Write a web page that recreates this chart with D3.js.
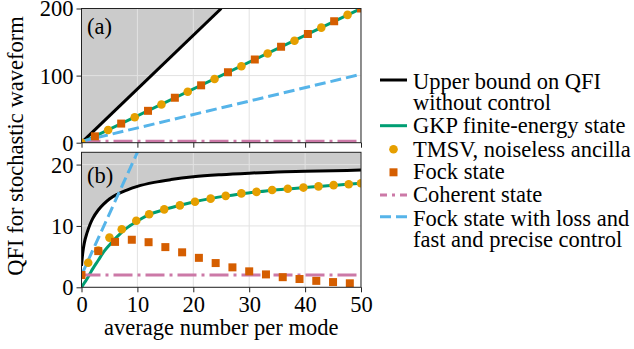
<!DOCTYPE html>
<html>
<head>
<meta charset="utf-8">
<script src="https://cdn.jsdelivr.net/npm/d3@7"></script>
</head>
<body style="margin:0; background:#fff">
<svg id="main-svg"></svg>
<script>
// DATA
const X_TICKS = [0, 10, 20, 30, 40, 50]
const Y_TICKS_A = [0, 100, 200]
const Y_TICKS_B = [0, 10, 20]

// panel (a)
const UPPER_A_N = [0, 25]
const UPPER_A = [0, 200]
const GKP_A_N = [0, 50]
const GKP_A = [0, 200]
const COHERENT_A_N = [0, 50]
const COHERENT_A = [2, 2]
const LOSS_A_N = [0, 50]
const LOSS_A = [2, 102]
const TMSV_A_N = [0, 4.76, 9.52, 14.3, 19.0, 23.8, 28.6, 33.3, 38.1, 42.9, 47.6]
const TMSV_A = [0, 19, 38, 57, 76, 95, 114, 133, 152, 171.5, 190.5]
const FOCK_A_N = [2.4, 7.1, 11.9, 16.7, 21.4, 26.2, 31.0, 35.7, 40.5, 45.2, 50]
const FOCK_A = [9.5, 28.5, 47.5, 67, 85.5, 105, 124, 143, 162, 181, 200]

// panel (b)
const UPPER_B_N = [0, 0.25, 0.5, 1, 1.5, 2, 3, 4, 5, 6.5, 8, 10, 13, 16, 20, 25, 30, 35, 40, 45, 50]
const UPPER_B = [3.5, 5.8, 7.2, 8.9, 10.2, 11.2, 12.6, 13.6, 14.4, 15.2, 15.8, 16.45, 17.1, 17.55, 18.0, 18.35, 18.6, 18.8, 18.9, 19.0, 19.1]
const GKP_B_N = [0, 0.5, 1, 1.5, 2, 3, 4, 5, 6, 7, 8, 10, 12, 15, 18, 20, 23, 26, 29, 32, 35, 38, 41, 44, 47, 50]
const GKP_B = [0, 0.7, 1.4, 2.2, 3.0, 4.4, 5.8, 6.9, 7.9, 8.8, 9.6, 10.8, 11.8, 12.7, 13.45, 13.9, 14.45, 14.9, 15.3, 15.6, 15.9, 16.1, 16.35, 16.55, 16.75, 16.95]
const COHERENT_B_N = [0, 50]
const COHERENT_B = [2, 2]
const LOSS_B_N = [0, 10]
const LOSS_B = [2, 22]
const TMSV_B_N = [1.2, 3.0, 5.0, 7.2, 9.8, 12.1, 14.8, 17.6, 20.3, 23.1, 25.8, 28.6, 31.3, 34.1, 36.9, 39.7, 42.4, 45.1, 47.8, 50]
const TMSV_B = [4.0, 6.0, 8.1, 9.45, 10.85, 11.9, 12.7, 13.35, 13.95, 14.45, 14.9, 15.3, 15.55, 15.85, 16.05, 16.25, 16.45, 16.65, 16.8, 16.95]
const FOCK_B_N = [0, 3, 6, 9, 12, 15, 18, 21, 24, 27, 30, 33, 36, 39, 42, 45, 48]
const FOCK_B = [2.0, 5.9, 7.4, 7.75, 7.35, 6.55, 5.7, 4.8, 3.95, 3.25, 2.6, 2.1, 1.65, 1.35, 1.05, 0.85, 0.65]

const LEGEND_LABELS = [
  ["Upper bound on QFI", "without control"],
  ["GKP finite-energy state"],
  ["TMSV, noiseless ancilla"],
  ["Fock state"],
  ["Coherent state"],
  ["Fock state with loss and", "fast and precise control"],
]

// SPACING
const CANVAS_WIDTH = 634
const CANVAS_HEIGHT = 349
const PLOT_LEFT = 81.5
const PLOT_RIGHT = 361
const PANEL_A_TOP = 8.5
const PANEL_A_BOTTOM = 142.7
const PANEL_B_TOP = 152.3
const PANEL_B_BOTTOM = 287.3
const TICK_SIZE = 5
const FONT_SIZE = 22.5
const FONT_FAMILY = '"Liberation Serif", "Times New Roman", serif'
const LINE_WIDTH = 3

// STYLE
const FILL_COLOR = "#cbcbcb"
const GRID_COLOR = "#e2e2e2"
const UPPER_COLOR = "#000000"
const GKP_COLOR = "#009E73"
const TMSV_COLOR = "#E69F00"
const FOCK_COLOR = "#D55E00"
const COHERENT_COLOR = "#CC79A7"
const LOSS_COLOR = "#56B4E9"

const zip = (xs, ys) => xs.map((x, i) => [x, ys[i]])

const svg = d3.select("#main-svg")
  .attr("width", CANVAS_WIDTH)
  .attr("height", CANVAS_HEIGHT)

const x = d3.scaleLinear().domain([0, 50]).range([PLOT_LEFT, PLOT_RIGHT])

function addText(parent) {
  return parent.append("text")
    .style("font-family", FONT_FAMILY)
    .style("font-size", FONT_SIZE + "px")
    .attr("fill", "#000")
}

function drawPanel(id, y, yTicks, top, bottom, d, showXLabels, tag, tagY) {
  const clip = svg.append("clipPath").attr("id", "clip-" + id)
  clip.append("rect")
    .attr("x", PLOT_LEFT).attr("y", top)
    .attr("width", PLOT_RIGHT - PLOT_LEFT).attr("height", bottom - top)

  const g = svg.append("g").attr("clip-path", `url(#clip-${id})`)
  const line = d3.line().x(p => x(p[0])).y(p => y(p[1])).curve(d3.curveMonotoneX)

  // grey region above the upper bound
  const area = d3.area()
    .x(p => x(p[0])).y0(top).y1(p => y(p[1]))
    .curve(d3.curveMonotoneX)
  g.append("path")
    .datum(zip(d.upperN, d.upper))
    .attr("d", area)
    .attr("fill", FILL_COLOR)

  // grid
  g.selectAll(".gx").data(X_TICKS).join("line")
    .attr("class", "gx")
    .attr("x1", v => x(v)).attr("x2", v => x(v))
    .attr("y1", top).attr("y2", bottom)
    .attr("stroke", GRID_COLOR).attr("stroke-width", 1)
  g.selectAll(".gy").data(yTicks).join("line")
    .attr("class", "gy")
    .attr("x1", PLOT_LEFT).attr("x2", PLOT_RIGHT)
    .attr("y1", v => y(v)).attr("y2", v => y(v))
    .attr("stroke", GRID_COLOR).attr("stroke-width", 1)

  g.append("path").datum(zip(d.upperN, d.upper)).attr("d", line)
    .attr("fill", "none").attr("stroke", UPPER_COLOR).attr("stroke-width", LINE_WIDTH)
  g.append("path").datum(zip(d.gkpN, d.gkp)).attr("d", line)
    .attr("fill", "none").attr("stroke", GKP_COLOR).attr("stroke-width", LINE_WIDTH)
  g.append("path").datum(zip(d.cohN, d.coh)).attr("d", line)
    .attr("fill", "none").attr("stroke", COHERENT_COLOR).attr("stroke-width", LINE_WIDTH)
    .attr("stroke-dasharray", "19,5,3,5")
  g.append("path").datum(zip(d.lossN, d.loss)).attr("d", line)
    .attr("fill", "none").attr("stroke", LOSS_COLOR).attr("stroke-width", LINE_WIDTH)
    .attr("stroke-dasharray", "11,5")

  g.selectAll(".tmsv").data(zip(d.tmsvN, d.tmsv)).join("circle")
    .attr("class", "tmsv")
    .attr("cx", p => x(p[0])).attr("cy", p => y(p[1])).attr("r", 4.3)
    .attr("fill", TMSV_COLOR)
  g.selectAll(".fock").data(zip(d.fockN, d.fock)).join("rect")
    .attr("class", "fock")
    .attr("x", p => x(p[0]) - 4).attr("y", p => y(p[1]) - 4)
    .attr("width", 8).attr("height", 8)
    .attr("fill", FOCK_COLOR)

  // frame
  svg.append("rect")
    .attr("x", PLOT_LEFT).attr("y", top)
    .attr("width", PLOT_RIGHT - PLOT_LEFT).attr("height", bottom - top)
    .attr("fill", "none").attr("stroke", "#222").attr("stroke-width", 1)

  // axes
  const yAxis = svg.append("g")
    .attr("transform", `translate(${PLOT_LEFT},0)`)
    .call(d3.axisLeft(y).tickValues(yTicks).tickSize(TICK_SIZE).tickPadding(3))
  const xAxis = svg.append("g")
    .attr("transform", `translate(0,${bottom})`)
    .call(d3.axisBottom(x).tickValues(X_TICKS).tickSize(TICK_SIZE).tickPadding(3)
      .tickFormat(showXLabels ? d3.format("d") : () => ""))
  for (const ax of [yAxis, xAxis]) {
    ax.select(".domain").remove()
    ax.selectAll("line").attr("stroke", "#222")
    ax.selectAll("text")
      .attr("fill", "#000")
      .style("font-family", FONT_FAMILY)
      .style("font-size", FONT_SIZE + "px")
  }
  xAxis.selectAll("text").attr("dy", "0.73em")
  yAxis.selectAll("text").attr("dy", "0.33em")

  addText(svg)
    .attr("x", PLOT_LEFT + 5.5).attr("y", tagY)
    .text(tag)
}

const yA = d3.scaleLinear().domain([0, 200]).range([PANEL_A_BOTTOM, PANEL_A_TOP])
const yB = d3.scaleLinear().domain([0, 22]).range([PANEL_B_BOTTOM, PANEL_B_TOP])

drawPanel("a", yA, Y_TICKS_A, PANEL_A_TOP, PANEL_A_BOTTOM, {
  upperN: UPPER_A_N, upper: UPPER_A, gkpN: GKP_A_N, gkp: GKP_A,
  cohN: COHERENT_A_N, coh: COHERENT_A, lossN: LOSS_A_N, loss: LOSS_A,
  tmsvN: TMSV_A_N, tmsv: TMSV_A, fockN: FOCK_A_N, fock: FOCK_A,
}, false, "(a)", 34)

drawPanel("b", yB, Y_TICKS_B, PANEL_B_TOP, PANEL_B_BOTTOM, {
  upperN: UPPER_B_N, upper: UPPER_B, gkpN: GKP_B_N, gkp: GKP_B,
  cohN: COHERENT_B_N, coh: COHERENT_B, lossN: LOSS_B_N, loss: LOSS_B,
  tmsvN: TMSV_B_N, tmsv: TMSV_B, fockN: FOCK_B_N, fock: FOCK_B,
}, true, "(b)", 183)

// axis titles
addText(svg)
  .attr("x", (PLOT_LEFT + PLOT_RIGHT) / 2).attr("y", 335)
  .attr("text-anchor", "middle")
  .text("average number per mode")

addText(svg)
  .attr("transform", "translate(23,146) rotate(-90)")
  .attr("text-anchor", "middle")
  .text("QFI for stochastic waveform")

// legend
const LEGEND_X = 380
const LEGEND_HANDLE = 27
const LEGEND_TEXT_X = 413
const LEGEND_HANDLE_Y = [80, 125.7, 149.3, 172.3, 195, 216.7]
const LEGEND_TEXT_Y = [89.3, 133.3, 156.7, 179.3, 201.7, 226]
const LEGEND_LINE_HEIGHT = 20.6

const legend = svg.append("g")
const styles = [
  { type: "line", color: UPPER_COLOR },
  { type: "line", color: GKP_COLOR },
  { type: "dot", color: TMSV_COLOR },
  { type: "square", color: FOCK_COLOR },
  { type: "line", color: COHERENT_COLOR, dash: "19,5,3,5", offset: 12 },
  { type: "line", color: LOSS_COLOR, dash: "11,5", offset: 0 },
]

LEGEND_LABELS.forEach((lines, i) => {
  const cy = LEGEND_HANDLE_Y[i]
  const s = styles[i]
  if (s.type === "line") {
    legend.append("line")
      .attr("x1", LEGEND_X).attr("x2", LEGEND_X + LEGEND_HANDLE)
      .attr("y1", cy).attr("y2", cy)
      .attr("stroke", s.color).attr("stroke-width", LINE_WIDTH)
      .attr("stroke-dasharray", s.dash || null)
      .attr("stroke-dashoffset", s.offset || 0)
  } else if (s.type === "dot") {
    legend.append("circle")
      .attr("cx", LEGEND_X + LEGEND_HANDLE / 2).attr("cy", cy).attr("r", 4.3)
      .attr("fill", s.color)
  } else {
    legend.append("rect")
      .attr("x", LEGEND_X + LEGEND_HANDLE / 2 - 4).attr("y", cy - 4)
      .attr("width", 8).attr("height", 8)
      .attr("fill", s.color)
  }
  const t = addText(legend)
    .attr("x", LEGEND_TEXT_X)
    .attr("y", LEGEND_TEXT_Y[i])
  lines.forEach((l, j) => {
    t.append("tspan")
      .attr("x", LEGEND_TEXT_X)
      .attr("dy", j === 0 ? 0 : LEGEND_LINE_HEIGHT)
      .text(l)
  })
})
</script>
</body>
</html>
